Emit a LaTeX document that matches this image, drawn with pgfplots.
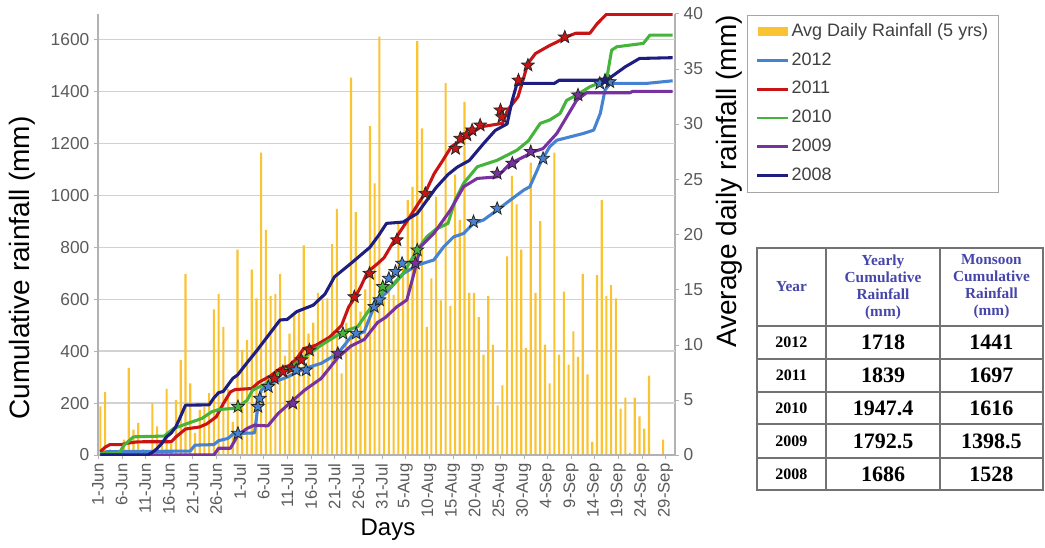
\documentclass[border=0pt]{standalone}
\usepackage{fontspec}
\setmainfont{Liberation Sans}
\newfontfamily\tnr{Liberation Serif}
\usepackage{pgfplots}
\pgfplotsset{compat=1.18}
\definecolor{barcol}{RGB}{250,195,50}
\definecolor{c2012}{RGB}{70,130,210}
\definecolor{c2011}{RGB}{200,20,20}
\definecolor{c2010}{RGB}{70,180,60}
\definecolor{c2009}{RGB}{120,50,160}
\definecolor{c2008}{RGB}{30,30,130}
\definecolor{hdr}{RGB}{70,70,170}
\definecolor{tickc}{RGB}{90,90,90}
\pgfdeclareplotmark{fstar}{%
  \pgfpathmoveto{\pgfpointpolar{90}{\pgfplotmarksize}}%
  \pgfpathlineto{\pgfpointpolar{126}{0.42\pgfplotmarksize}}%
  \pgfpathlineto{\pgfpointpolar{162}{\pgfplotmarksize}}%
  \pgfpathlineto{\pgfpointpolar{198}{0.42\pgfplotmarksize}}%
  \pgfpathlineto{\pgfpointpolar{234}{\pgfplotmarksize}}%
  \pgfpathlineto{\pgfpointpolar{270}{0.42\pgfplotmarksize}}%
  \pgfpathlineto{\pgfpointpolar{306}{\pgfplotmarksize}}%
  \pgfpathlineto{\pgfpointpolar{342}{0.42\pgfplotmarksize}}%
  \pgfpathlineto{\pgfpointpolar{18}{\pgfplotmarksize}}%
  \pgfpathlineto{\pgfpointpolar{54}{0.42\pgfplotmarksize}}%
  \pgfpathclose
  \pgfusepathqfillstroke}
\pgfplotsset{
  common/.style={
    at={(73.5pt,69pt)}, anchor=south west, scale only axis,
    width=432.75pt, height=331.1pt, xmin=0, xmax=122,
    /pgf/number format/assume math mode=true,
    /pgf/number format/1000 sep={}, scaled y ticks=false,
  },
  stars/.style={only marks, mark=fstar, mark size=5pt, forget plot,
    mark options={draw=black!85, line width=0.6pt, fill=#1}},
  yr/.style={#1, line width=2.3pt, line join=round, mark=none},
}
\begin{document}
\begin{tikzpicture}
\useasboundingbox (0,0) rectangle (783.75pt,410.25pt);
% ---------- bars (right axis) ----------
\begin{axis}[common,
  ymin=0, ymax=40,
  axis x line=none, axis y line*=right,
  axis line style={gray!60, line width=0.8pt},
  ytick={0,5,...,40},
  tick style={gray!60}, major tick length=3pt, tick align=outside,
  yticklabel style={font=\fontsize{13}{15}\selectfont, text=tickc},
  extra y ticks={4.70588,9.41176,14.11765,18.82353,23.52941,28.23529,32.94118,37.64706},
  extra y tick labels={},
  extra y tick style={grid=major, major tick length=0pt},
  major grid style={gray!35, line width=1pt},
  ylabel={Average daily rainfall (mm)},
  ylabel style={font=\fontsize{21}{24}\selectfont, at={(axis description cs:1.0936,0.6195)}, anchor=center},
]
\addplot[ybar, bar width=0.45, fill=barcol, draw=none] table {
x y
0.5 4.4
1.5 5.7
2.5 0.5
3.5 0.4
4.5 0.3
5.5 1.4
6.5 7.9
7.5 2.3
8.5 2.9
9.5 0.5
10.5 0.3
11.5 4.7
12.5 2.6
13.5 1.0
14.5 6.0
15.5 1.0
16.5 5.0
17.5 8.6
18.5 16.4
19.5 6.5
20.5 2.0
21.5 4.1
22.5 4.4
23.5 5.6
24.5 13.2
25.5 14.6
26.5 11.6
27.5 6.0
28.5 3.0
29.5 18.6
30.5 9.5
31.5 10.4
32.5 16.8
33.5 14.2
34.5 27.4
35.5 20.4
36.5 14.4
37.5 14.6
38.5 16.4
39.5 9.0
40.5 11.0
41.5 12.8
42.5 13.0
43.5 19.0
44.5 11.0
45.5 12.0
46.5 14.7
47.5 14.1
48.5 14.2
49.5 19.1
50.5 22.3
51.5 7.4
52.5 12.0
53.5 34.2
54.5 22.0
55.5 13.0
56.5 15.0
57.5 29.8
58.5 24.6
59.5 37.9
60.5 14.0
61.5 15.5
62.5 14.5
63.5 21.0
64.5 17.0
65.5 23.1
66.5 24.3
67.5 37.5
68.5 29.6
69.5 11.6
70.5 16.0
71.5 23.4
72.5 14.0
73.5 33.7
74.5 13.5
75.5 25.4
76.5 21.3
77.5 32.0
78.5 14.7
79.5 14.7
80.5 12.5
81.5 9.1
82.5 14.4
83.5 10.0
84.5 4.5
85.5 6.3
86.5 18.0
87.5 25.3
88.5 22.7
89.5 18.6
90.5 9.7
91.5 26.5
92.5 14.7
93.5 21.2
94.5 10.0
95.5 6.5
96.5 27.4
97.5 9.1
98.5 14.8
99.5 8.2
100.5 11.2
101.5 8.9
102.5 16.4
103.5 7.3
104.5 1.2
105.5 16.3
106.5 23.1
107.5 14.4
108.5 15.4
109.5 14.2
110.5 4.2
111.5 5.2
112.5 0.2
113.5 5.2
114.5 3.5
115.5 2.4
116.5 7.2
117.5 0
118.5 0
119.5 1.4
120.5 0
121.5 0
};
\end{axis}
% ---------- cumulative lines (left axis) ----------
\begin{axis}[common,
  ymin=0, ymax=1700,
  axis x line*=bottom, axis y line*=left,
  axis line style={gray!60, line width=0.8pt},
  ytick={0,200,...,1600},
  xtick={0,5,...,120},
  xticklabels={1-Jun,6-Jun,11-Jun,16-Jun,21-Jun,26-Jun,1-Jul,6-Jul,11-Jul,16-Jul,21-Jul,26-Jul,31-Jul,5-Aug,10-Aug,15-Aug,20-Aug,25-Aug,30-Aug,4-Sep,9-Sep,14-Sep,19-Sep,24-Sep,29-Sep},
  tick style={gray!60}, major tick length=3pt, tick align=outside,
  yticklabel style={font=\fontsize{13}{15}\selectfont, text=tickc},
  xticklabel style={font=\fontsize{12.5}{14}\selectfont, text=tickc, rotate=90, anchor=east},
  ylabel={Cumulative rainfall (mm)},
  ylabel style={font=\fontsize{21}{24}\selectfont, at={(axis description cs:-0.1317,0.4236)}, anchor=center},
  xlabel={Days},
  xlabel style={font=\fontsize{18}{20}\selectfont, at={(axis description cs:0.5026,-0.17)}, anchor=center},
  legend style={at={(axis description cs:1.1248,0.9977)}, anchor=north west,
    draw=gray!70, line width=0.8pt, font=\fontsize{13.5}{16}\selectfont, text=black!75,
    inner xsep=6pt, inner ysep=3.9pt, row sep=4.6pt,
    nodes={text height=10pt, text depth=3pt, inner sep=2pt}},
  legend cell align=left,
  legend image code/.code={\draw[#1, line width=2pt] (0pt,0pt) -- (23pt,0pt);},
]
\addlegendimage{legend image code/.code={\fill[barcol] (1pt,-3pt) rectangle (23pt,3pt);}}
\addlegendentry{Avg Daily Rainfall (5 yrs)}
% 2012
\addplot[yr=c2012] coordinates {
(0.5,5)(2,13)(19.5,15)(20.5,38)(24.5,40)(25.5,55)(27.5,64)(28.5,80)(29.6,83)(33.1,85)(33.8,186)(34.5,250)(36.6,276)(40.1,301)(43.7,333)(47.2,353)(50.7,391)(53.5,455)(56.3,475)(57.8,545)(59.1,597)(60.8,622)(64.6,699)(67.5,731)(71,751)(73.1,802)(75.2,840)(77.3,853)(79.4,892)(81.5,905)(84.4,943)(87.2,982)(90,1020)(91.3,1033)(93.5,1123)(95.5,1187)(97,1212)(99.8,1225)(102.6,1238)(104.8,1251)(106.2,1315)(107.2,1405)(108.3,1431)(116,1431)(121.5,1441)};
\addlegendentry{2012}
% 2011
\addplot[yr=c2011] coordinates {
(0.5,13)(1.5,30)(2.5,40)(5,40)(6,45)(8,50)(9.5,51)(15.5,51)(16.5,70)(18.5,100)(21.5,108)(23,120)(25,147)(26.5,198)(28,243)(29,252)(32.5,256)(34,280)(36.5,305)(38.5,333)(40.5,345)(42,371)(43.5,410)(46,422)(49,454)(51.5,499)(53,570)(54.4,609)(55.5,646)(57,705)(59,735)(60.5,760)(62.7,828)(65.5,905)(69.1,1007)(71.1,1084)(72.5,1123)(74.7,1187)(76.8,1212)(81,1264)(85.5,1277)(86.6,1328)(88.8,1379)(90.9,1508)(92.5,1546)(95.5,1577)(97,1590)(99,1610)(101,1624)(104,1624)(105.5,1660)(107.5,1697)(121.5,1697)};
\addlegendentry{2011}
% 2010
\addplot[yr=c2010] coordinates {
(0.5,5)(4.5,8)(5.5,38)(7.5,70)(14,73)(16,102)(19,122)(22,141)(24,166)(25.5,175)(29,180)(29.6,186)(31.5,210)(32.7,250)(35.5,275)(38.1,314)(40.9,340)(43.7,378)(47.2,423)(50.7,462)(52.8,481)(54.9,494)(57.8,571)(60.5,635)(62,650)(64.5,699)(67.5,789)(69.5,840)(71.5,870)(74,892)(75.5,980)(77.3,1046)(80.2,1110)(84.4,1135)(88.6,1174)(91,1210)(93.5,1277)(95.5,1290)(97.7,1315)(99.1,1366)(101.2,1386)(104,1418)(107.5,1443)(108.6,1559)(109.7,1572)(115.3,1585)(116.7,1617)(121.5,1617)};
\addlegendentry{2010}
% 2009
\addplot[yr=c2009] coordinates {
(0.5,0)(24.5,0)(25.5,26)(28,26)(29.6,77)(31.5,102)(33.1,115)(35.9,112)(38.1,160)(40.9,205)(43.7,250)(47.2,295)(50.7,375)(53.5,420)(56.3,445)(59.1,510)(60.8,530)(63.2,571)(65.3,597)(66.8,699)(68.2,802)(71,853)(74.5,943)(77.3,1033)(80.2,1065)(84.4,1071)(87.2,1123)(90,1148)(92.1,1168)(94.1,1180)(97,1238)(99.1,1302)(101.2,1366)(103.3,1395)(112.5,1395)(113,1400)(121.5,1400)};
\addlegendentry{2009}
% 2008
\addplot[yr=c2008] coordinates {
(0.5,0)(10.5,0)(11.5,10)(12.5,25)(13.5,45)(14.5,70)(15.5,85)(16.5,110)(17.5,150)(18.5,192)(23.5,193)(24.5,220)(25.5,240)(26.5,245)(27.5,270)(28.5,295)(29.5,308)(31.5,355)(33.5,400)(36,460)(38.5,520)(40,522)(42,552)(45.5,577)(48,620)(50,686)(53.5,738)(57.5,800)(59.5,850)(61,892)(64.5,897)(67.5,930)(71.5,1030)(74,1080)(76,1109)(78.5,1134)(81.5,1199)(84,1250)(86.5,1275)(87.5,1360)(88.5,1425)(89.5,1431)(96.5,1431)(97.5,1443)(107.5,1443)(109.5,1469)(111.5,1495)(114.5,1527)(121.5,1530)};
\addlegendentry{2008}
% star markers
\addplot[stars=c2011] coordinates {(37.3,295)(39.1,321)(40.9,334)(43,366)(44.7,404)(54.2,609)(57.4,699)(63.2,828)(69.2,1007)(75.6,1180)(76.6,1219)(78.0,1232)(79.1,1251)(80.8,1270)(85.1,1328)(85.4,1302)(88.9,1443)(90.9,1501)(98.7,1609)};
\addplot[stars=c2012] coordinates {(29.6,83)(33.8,186)(34.2,218)(36.0,263)(41.9,327)(44,327)(54.6,468)(58.4,571)(59.5,597)(61.5,680)(62.9,706)(64.3,738)(79.4,898)(84.4,949)(94.1,1142)(106.1,1431)(108.2,1437)};
\addplot[stars=c2010] coordinates {(29.6,186)(51.8,468)(60.2,648)(67.5,789)};
\addplot[stars=c2009] coordinates {(41.2,199)(50.7,391)(67.1,738)(84.4,1084)(87.6,1123)(91.5,1168)(101.5,1386)};
\addplot[stars=c2008] coordinates {(107.2,1443)};
\end{axis}
% ---------- summary table ----------
\begin{scope}[line width=1.5pt, draw=black!55]
\draw (567.75pt,42.75pt) rectangle (782.25pt,224.25pt);
\draw (619.5pt,42.75pt) -- (619.5pt,224.25pt);
\draw (705pt,42.75pt) -- (705pt,224.25pt);
\foreach \yy in {165.75,141,116.25,92.25,66.75} \draw (567.75pt,\yy pt) -- (782.25pt,\yy pt);
\end{scope}
\begin{scope}[every node/.style={anchor=center, inner sep=0pt}]
\node[text=hdr, font=\tnr\bfseries\fontsize{11.5}{12.7}\selectfont] at (593.6pt,195pt) {Year};
\node[text=hdr, align=center, font=\tnr\bfseries\fontsize{11.5}{12.7}\selectfont] at (662.25pt,195pt) {Yearly\\Cumulative\\Rainfall\\(mm)};
\node[text=hdr, align=center, font=\tnr\bfseries\fontsize{11.5}{12.7}\selectfont] at (743.6pt,195pt) {Monsoon\\Cumulative\\Rainfall\\(mm)};
\foreach \yy/\yr/\a/\b in {153.4/2012/1718/1441, 128.6/2011/1839/1697, 104.25/2010/1947.4/1616, 79.5/2009/1792.5/1398.5, 54.75/2008/1686/1528} {
  \node[font=\tnr\bfseries\fontsize{12}{14}\selectfont] at (593.6pt,\yy pt) {\yr};
  \node[font=\tnr\bfseries\fontsize{16.5}{18}\selectfont] at (662.25pt,\yy pt) {\a};
  \node[font=\tnr\bfseries\fontsize{16.5}{18}\selectfont] at (743.6pt,\yy pt) {\b};
}
\end{scope}
\end{tikzpicture}
\end{document}
